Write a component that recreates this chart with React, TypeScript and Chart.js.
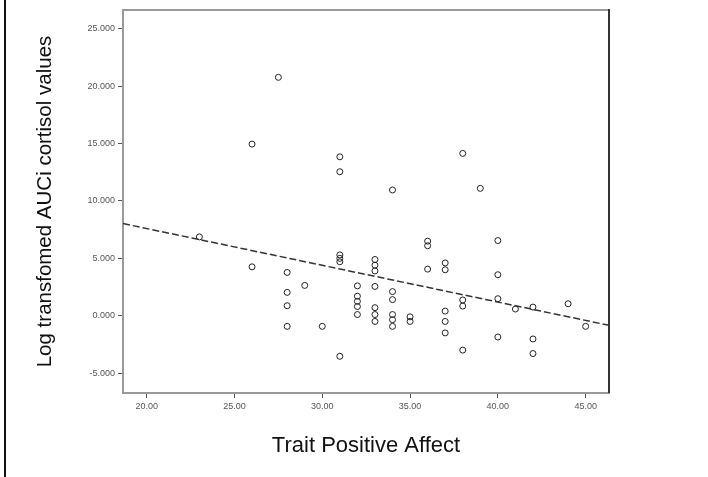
import React, { useEffect, useRef } from "react";
import { Chart, registerables } from "chart.js";

Chart.register(...registerables);

// Trait Positive Affect (x) and Log transformed AUCi cortisol values (y)
const traitPA: number[] = [
  23,
  26, 26,
  27.5,
  28, 28, 28, 28,
  29,
  30,
  31, 31, 31, 31, 31, 31,
  32, 32, 32, 32, 32,
  33, 33, 33, 33, 33, 33, 33,
  34, 34, 34, 34, 34, 34,
  35, 35,
  36, 36, 36,
  37, 37, 37, 37, 37,
  38, 38, 38, 38,
  39,
  40, 40, 40, 40,
  41,
  42, 42, 42,
  44,
  45,
];
const cortisol: number[] = [
  6.87,
  14.96, 4.26,
  20.78,
  3.77, 2.03, 0.87, -0.93,
  2.64,
  -0.93,
  13.85, 12.55, 5.3, 5.0, 4.7, -3.54,
  2.6, 1.7, 1.25, 0.8, 0.1,
  4.9, 4.4, 3.9, 2.55, 0.7, 0.1, -0.5,
  10.96, 2.1, 1.4, 0.1, -0.35, -0.93,
  -0.1, -0.5,
  6.5, 6.1, 4.06,
  4.6, 4.0, 0.4, -0.5, -1.5,
  14.15, 1.37, 0.84, -3.0,
  11.1,
  6.55, 3.57, 1.48, -1.86,
  0.58,
  0.75, -2.03, -3.3,
  1.04,
  -0.93,
];

// Fit line end points
const fitX: number[] = [18.65, 46.33];
const fitY: number[] = [8.03, -0.84];

const xTicks: number[] = [20, 25, 30, 35, 40, 45];
const yTicks: number[] = [-5, 0, 5, 10, 15, 20, 25];
const xRange: number[] = [18.65, 46.33];
const yRange: number[] = [-6.74, 26.65];

const xTitle = "Trait Positive Affect";
const yTitle = "Log transfomed AUCi cortisol values";

const FONT = "'Liberation Sans', Arial, sans-serif";

const framePlugin = {
  id: "frame",
  afterDatasetsDraw(chart: any) {
    const { ctx, chartArea } = chart;
    ctx.save();
    ctx.lineWidth = 2;
    ctx.strokeStyle = "#9a9a9a";
    ctx.beginPath();
    ctx.moveTo(chartArea.left, chartArea.top);
    ctx.lineTo(chartArea.right, chartArea.top);
    ctx.stroke();
    ctx.strokeStyle = "#333";
    ctx.beginPath();
    ctx.moveTo(chartArea.right, chartArea.top - 1);
    ctx.lineTo(chartArea.right, chartArea.bottom);
    ctx.stroke();
    ctx.restore();
  },
};

export default function App() {
  const ref = useRef<HTMLCanvasElement>(null);

  useEffect(() => {
    if (!ref.current) return;
    const points = traitPA.map((x, i) => ({ x, y: cortisol[i] }));
    const fit = fitX.map((x, i) => ({ x, y: fitY[i] }));
    const chart = new Chart(ref.current, {
      type: "scatter",
      data: {
        datasets: [
          {
            data: points,
            pointStyle: "circle",
            pointRadius: 3,
            pointBorderWidth: 1,
            borderColor: "#222",
            backgroundColor: "rgba(0,0,0,0)",
            order: 2,
          } as any,
          {
            type: "line",
            data: fit,
            showLine: true,
            borderColor: "#333",
            borderWidth: 1.5,
            borderDash: [7, 3],
            pointRadius: 0,
            fill: false,
            order: 1,
          } as any,
        ],
      },
      options: {
        animation: false,
        responsive: false,
        devicePixelRatio: 1,
        layout: { padding: { left: 0, right: 99, top: 10, bottom: 0 } },
        plugins: {
          legend: { display: false },
          tooltip: { enabled: false },
        },
        scales: {
          x: {
            type: "linear",
            min: xRange[0],
            max: xRange[1],
            afterBuildTicks: (s: any) => {
              s.ticks = xTicks.map((v) => ({ value: v }));
            },
            afterFit: (s: any) => {
              s.height = 84;
            },
            grid: {
              display: true,
              drawOnChartArea: false,
              drawTicks: true,
              tickLength: 5,
              color: "#555",
              lineWidth: 1,
            },
            border: { display: true, color: "#9a9a9a", width: 2 },
            ticks: {
              font: { family: FONT, size: 9 },
              color: "#555",
              padding: 3,
              maxRotation: 0,
              autoSkip: false,
              callback: (v: any) => Number(v).toFixed(2),
            },
            title: {
              display: true,
              text: xTitle,
              font: { family: FONT, size: 22 },
              color: "#111",
              padding: { top: 0, bottom: 18 },
            },
          },
          y: {
            type: "linear",
            min: yRange[0],
            max: yRange[1],
            afterBuildTicks: (s: any) => {
              s.ticks = yTicks.map((v) => ({ value: v }));
            },
            afterFit: (s: any) => {
              s.width = 123;
            },
            grid: {
              display: true,
              drawOnChartArea: false,
              drawTicks: true,
              tickLength: 5,
              color: "#555",
              lineWidth: 1,
            },
            border: { display: true, color: "#9a9a9a", width: 2 },
            ticks: {
              font: { family: FONT, size: 9 },
              color: "#555",
              padding: 3,
              autoSkip: false,
              callback: (v: any) => Number(v).toFixed(3),
            },
            title: {
              display: true,
              text: yTitle,
              font: { family: FONT, size: 20.5 },
              color: "#111",
              padding: { top: 32.7, bottom: 0 },
            },
          },
        },
      },
      plugins: [framePlugin],
    });
    return () => chart.destroy();
  }, []);

  return (
    <div
      style={{
        position: "fixed",
        left: 0,
        top: 0,
        width: 708,
        height: 477,
        background: "#fff",
      }}
    >
      <div
        style={{
          position: "absolute",
          left: 4,
          top: 0,
          width: 2,
          height: 477,
          background: "#111",
        }}
      />
      <canvas
        ref={ref}
        width={708}
        height={477}
        style={{ position: "absolute", left: 0, top: 0, width: 708, height: 477 }}
      />
    </div>
  );
}
